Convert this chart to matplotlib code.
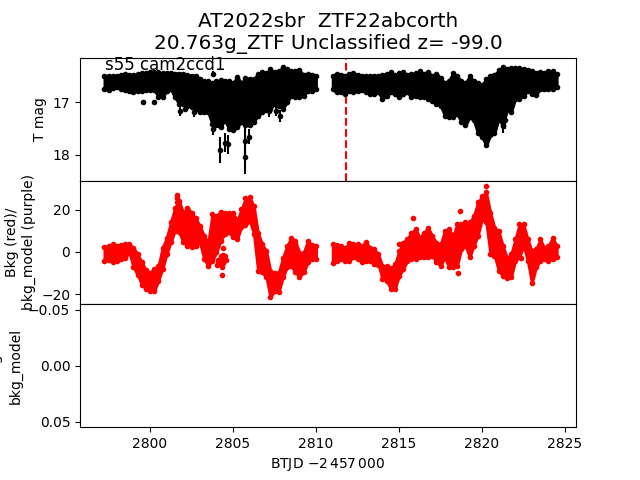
#TESS light curve, background and background ratio panels.
#Each time sample keeps the upper and lower edge of the dense point band.

import matplotlib
matplotlib.use("Agg")
import matplotlib.pyplot as plt

title = "AT2022sbr  ZTF22abcorth\n20.763g_ZTF Unclassified z= -99.0"
sector_label = "s55 cam2ccd1"
disc_time = 2811.78

t1 = [2797.25, 2797.5, 2797.75, 2798.0, 2798.25, 2798.5, 2798.75, 2799.0, 2799.25, 2799.5, 2799.75,
      2800.0, 2800.25, 2800.5, 2800.75, 2801.0, 2801.25, 2801.5, 2801.75, 2802.0, 2802.25, 2802.5, 2802.75,
      2803.0, 2803.25, 2803.5, 2803.75, 2804.0, 2804.25, 2804.5, 2804.75, 2805.0, 2805.25, 2805.5, 2805.75,
      2806.0, 2806.25, 2806.5, 2806.75, 2807.0, 2807.25, 2807.5, 2807.75, 2808.0, 2808.25, 2808.5, 2808.75,
      2809.0, 2809.25, 2809.5, 2809.75, 2810.0]
t2 = [2811.0, 2811.25, 2811.5, 2811.75, 2812.0, 2812.25, 2812.5, 2812.75, 2813.0, 2813.25, 2813.5, 2813.75,
      2814.0, 2814.25, 2814.5, 2814.75, 2815.0, 2815.25, 2815.5, 2815.75, 2816.0, 2816.25, 2816.5, 2816.75,
      2817.0, 2817.25, 2817.5, 2817.75, 2818.0, 2818.25, 2818.5, 2818.75, 2819.0, 2819.25, 2819.5, 2819.75,
      2820.0, 2820.25, 2820.5, 2820.75, 2821.0, 2821.25, 2821.5, 2821.75, 2822.0, 2822.25, 2822.5, 2822.75,
      2823.0, 2823.25, 2823.5, 2823.75, 2824.0, 2824.25, 2824.5]

mag_top1 = [16.49, 16.49, 16.49, 16.49, 16.47, 16.45, 16.47, 16.47, 16.45, 16.44, 16.44,
            16.425, 16.425, 16.425, 16.44, 16.44, 16.44, 16.45, 16.45, 16.45, 16.47, 16.49, 16.49,
            16.55, 16.59, 16.59, 16.63, 16.59, 16.58, 16.59, 16.59, 16.63, 16.51, 16.63, 16.53,
            16.55, 16.56, 16.45, 16.425, 16.44, 16.37, 16.425, 16.41, 16.32, 16.36, 16.41, 16.41,
            16.39, 16.47, 16.45, 16.47, 16.49]
mag_bot1 = [16.75, 16.76, 16.73, 16.71, 16.75, 16.76, 16.79, 16.81, 16.78, 16.78, 16.76,
            16.76, 16.76, 16.89, 16.90, 16.78, 16.75, 16.90, 17.03, 17.03, 17.06, 17.09, 17.12,
            17.19, 17.19, 17.19, 17.41, 17.44, 17.47, 17.34, 17.50, 17.53, 17.47, 17.37, 17.44,
            17.44, 17.37, 17.25, 17.19, 17.15, 17.12, 17.03, 17.06, 17.12, 17.00, 16.87, 16.90,
            16.89, 16.87, 16.78, 16.78, 16.75]
mag_top2 = [16.49, 16.45, 16.47, 16.50, 16.45, 16.44, 16.47, 16.49, 16.49, 16.49, 16.49, 16.50,
            16.47, 16.45, 16.425, 16.47, 16.44, 16.425, 16.47, 16.45, 16.44, 16.41, 16.45, 16.425,
            16.49, 16.45, 16.53, 16.63, 16.59, 16.44, 16.50, 16.59, 16.63, 16.50, 16.59, 16.63,
            16.66, 16.56, 16.50, 16.47, 16.39, 16.32, 16.36, 16.34, 16.34, 16.34, 16.36, 16.39,
            16.41, 16.44, 16.425, 16.44, 16.41, 16.41, 16.45]
mag_bot2 = [16.75, 16.81, 16.81, 16.83, 16.78, 16.81, 16.78, 16.76, 16.81, 16.84, 16.83, 16.81,
            16.93, 16.87, 16.81, 16.84, 16.90, 16.84, 16.81, 16.90, 16.87, 16.89, 16.90, 16.93,
            16.97, 17.03, 17.06, 17.25, 17.27, 17.27, 17.22, 17.37, 17.44, 17.28, 17.34, 17.59,
            17.66, 17.82, 17.63, 17.59, 17.31, 17.44, 17.15, 17.19, 16.93, 16.93, 16.87, 16.78,
            16.84, 16.85, 16.75, 16.75, 16.75, 16.75, 16.71]

# faint points that stick out of the band, with their error bars
out_t = [2799.6, 2800.24, 2801.81, 2802.13, 2802.67, 2803.82, 2803.82, 2804.22, 2804.52, 2804.72, 2805.72,
         2805.72, 2805.98, 2807.17, 2807.59, 2807.83, 2821.38, 2821.25]
out_mag = [17.00, 17.00, 17.17, 17.12, 17.19, 17.50, 16.45, 17.90, 17.77, 17.80, 17.74,
           18.04, 17.65, 17.17, 17.16, 17.26, 17.34, 17.45]
out_err = [0.04, 0.04, 0.08, 0.07, 0.08, 0.12, 0.04, 0.25, 0.18, 0.18, 0.25,
           0.33, 0.15, 0.10, 0.09, 0.12, 0.16, 0.14]

bkg_top1 = [2.4, 2.9, 4.0, 2.9, 3.5, 3.7, 3.7, 2.1, -1.1, -4.75, -8.6,
            -9.8, -7.9, -6.7, 2.1, 6.8, 14.0, 21.1, 24.3, 18.7, 21.1, 18.7, 15.9,
            12.4, 7.6, 4.5, 18.0, 17.2, 19.1, 18.7, 18.4, 18.4, 14.8, 20.3, 25.4,
            25.9, 21.9, 9.2, 3.7, 0.5, -9.0, -9.8, -9.8, -2.7, 2.9, 6.8, 5.3,
            -0.3, -0.3, 5.3, 3.2, 2.9]
bkg_bot1 = [-4.4, -3.8, -4.9, -4.1, -3.3, -2.8, -0.2, -7.3, -10.8, -15.5, -17.6,
            -18.4, -18.7, -13.6, -8.1, -0.9, 4.6, 10.2, 9.4, 4.6, 3.0, 2.6, 3.0,
            4.6, -3.3, -6.5, -4.1, -0.1, 5.4, 8.6, 9.4, 7.0, 6.2, 11.8, 12.6,
            14.9, 8.6, -8.9, -9.7, -12.0, -21.6, -18.4, -19.2, -12.0, -7.3, -6.5, -9.7,
            -11.7, -9.7, -4.9, -3.3, -3.3]
bkg_top2 = [3.7, 3.2, 2.9, 2.1, 4.1, 3.7, 3.7, 2.9, 4.8, 2.1, 1.3, -1.1,
            -6.7, -6.7, -7.4, -5.9, 0.5, 4.5, 6.4, 9.2, 10.8, 6.8, 9.2, 11.6,
            7.6, 4.5, 3.7, 10.0, 10.8, 7.6, 13.2, 13.2, 14.0, 14.0, 17.2, 23.5,
            26.4, 28.3, 18.7, 11.6, 10.0, 2.9, -2.7, -1.1, 6.0, 13.2, 13.2, 6.0,
            0.5, 1.3, 6.0, 2.1, 2.9, 6.8, 2.9]
bkg_bot2 = [-5.4, -4.1, -3.3, -4.1, -4.1, -2.5, -3.3, -4.9, -4.1, -4.1, -5.7, -6.0,
            -12.8, -13.6, -17.6, -17.6, -11.3, -8.1, -4.1, -3.3, -3.3, -2.5, -2.5, -2.5,
            -1.7, -4.9, -6.5, -2.5, -7.3, -7.3, -6.5, 1.4, 3.0, -2.5, 3.0, 7.8,
            15.7, 14.1, -0.9, -1.7, -8.9, -11.3, -12.4, -12.0, -4.1, -2.5, 3.0, -4.1,
            -14.9, -7.3, -4.1, -3.3, -4.1, -3.3, -2.5]

# separate red points off the main band
bkg_out_t = [2801.65, 2801.65, 2801.6, 2804.36, 2804.06, 2804.22, 2804.42, 2804.42, 2804.56, 2804.32, 2804.12,
             2804.2, 2804.3, 2804.4, 2804.5, 2804.1, 2804.35, 2815.02, 2815.86, 2818.7, 2818.58, 2820.26, 2822.37]
bkg_out = [27.2, 25.5, 23.5, -11.1, -6.2, -3.8, 1.8, -1.4, -3.8, -7.3, -3.8,
           -5.5, -1.8, -5.0, -1.8, -5.0, -3.5, 3.8, 16.0, 19.4, -10.1, 31.4, -3.0]

fig, axes = plt.subplots(3, 1, sharex=True)
fig.subplots_adjust(hspace=0)
ax1, ax2, ax3 = axes

ax1.axvline(disc_time, color="r", ls="--", lw=1.5)
for t, top, bot in [(t1, mag_top1, mag_bot1), (t2, mag_top2, mag_bot2)]:
    ax1.fill_between(t, top, bot, color="k", lw=2, zorder=3)
    ax1.plot(t, top, "k.", zorder=3)
    ax1.plot(t, bot, "k.", zorder=3)
ax1.errorbar(out_t, out_mag, yerr=out_err, fmt="k.", zorder=3)
ax1.text(2797.3, 16.39, sector_label, fontsize=12, zorder=4)
ax1.set_ylim(18.495, 16.145)
ax1.set_yticks([17, 18])
ax1.set_ylabel("T mag")
ax1.set_title(title, fontsize=14.4)

for t, top, bot in [(t1, bkg_top1, bkg_bot1), (t2, bkg_top2, bkg_bot2)]:
    ax2.fill_between(t, bot, top, color="r", lw=2)
    ax2.plot(t, top, "r.")
    ax2.plot(t, bot, "r.")
ax2.plot(bkg_out_t, bkg_out, "r.")
ax2.set_ylim(-24.7, 33.8)
ax2.set_yticks([-20, 0, 20])
ax2.set_ylabel("Bkg (red)/\nbkg_model (purple)")

# third panel is empty in the source, only the inverted default range is left
ax3.set_ylim(0.055, -0.055)
ax3.set_yticks([-0.05, 0.0, 0.05])
ax3.set_ylabel("Bkg\nbkg_model", linespacing=1.6)
ax3.set_xlim(2795.78, 2825.66)
ax3.set_xticks([2800, 2805, 2810, 2815, 2820, 2825])
ax3.set_xlabel(r"BTJD $-2\,457\,000$")

fig.savefig("out.png", dpi=100)
